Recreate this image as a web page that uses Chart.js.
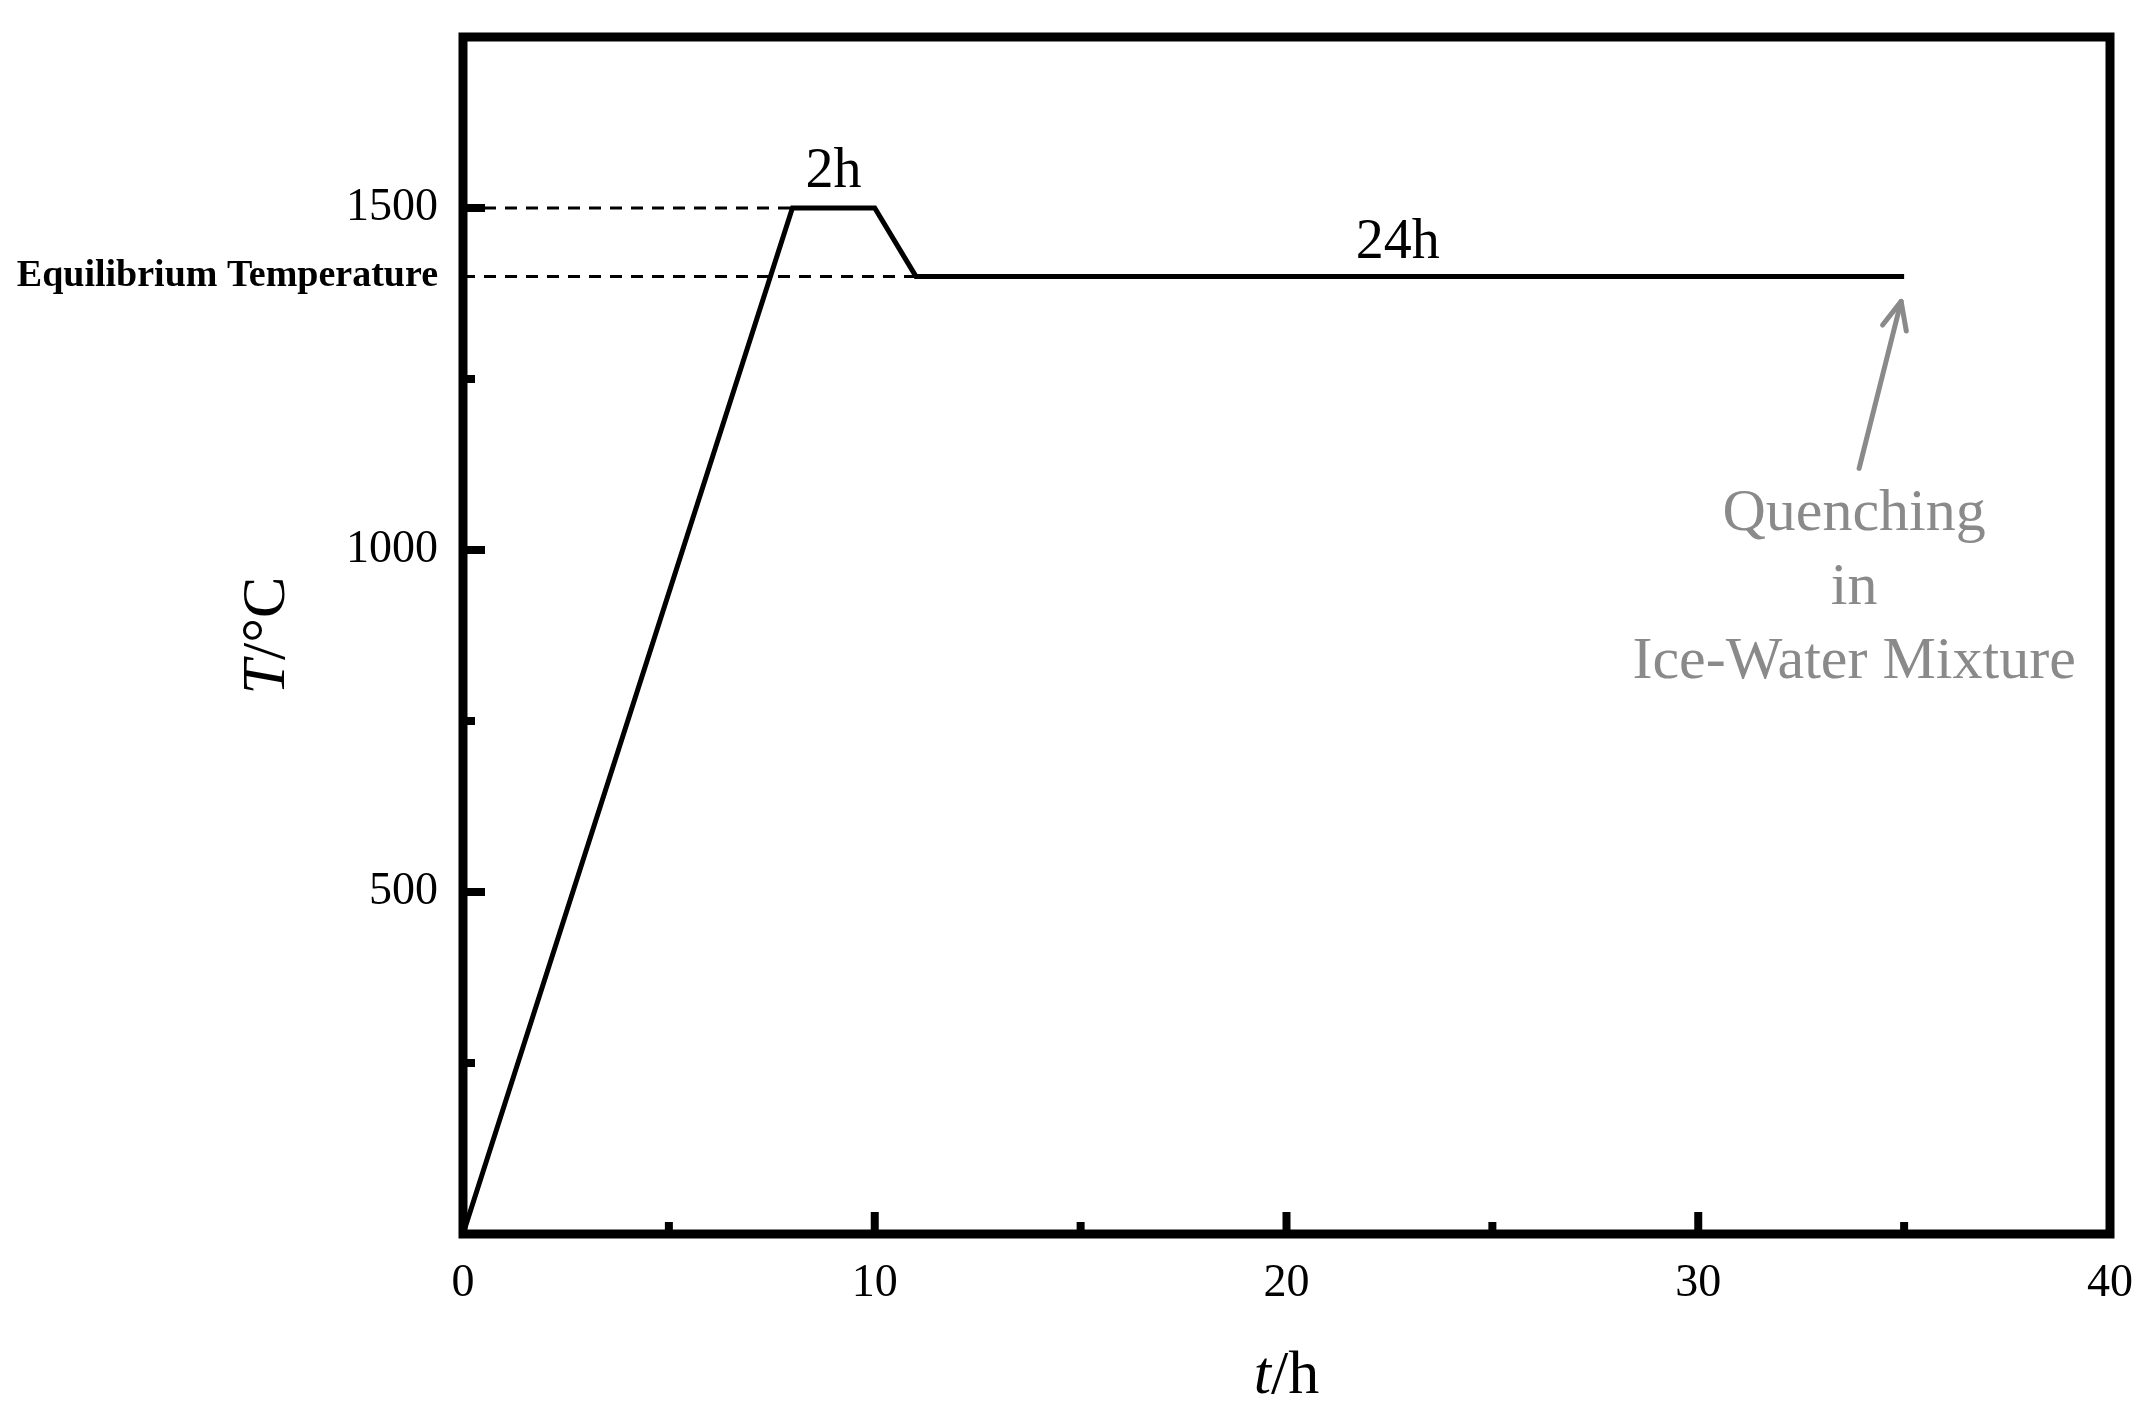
<!DOCTYPE html>
<html><head><meta charset="utf-8">
<script src="https://cdn.jsdelivr.net/npm/chart.js@4/dist/chart.umd.min.js"></script>
<style>html,body{margin:0;padding:0;background:#fff;overflow:hidden}</style>
</head><body>
<canvas id="c" width="2155" height="1415" style="width:2155px;height:1415px;display:block"></canvas>
<script>
// ---- data ----
const timeH = [0, 8, 10, 11, 35];
const tempC = [0, 1500, 1500, 1400, 1400];
const xTicks = [0, 10, 20, 30, 40];
const xMinorTicks = [5, 15, 25, 35];
const yTicks = [500, 1000, 1400, 1500];
const yMajorMarks = [500, 1000, 1500];
const yMinorMarks = [250, 750, 1250];
const equilibriumT = 1400;
const holdT = 1500;
const segmentLabels = ['2h', '24h'];
const quenchLines = ['Quenching', 'in', 'Ice-Water Mixture'];

const SERIF = '"Liberation Serif", "Times New Roman", serif';

const decor = {
  id: 'decor',
  beforeDatasetsDraw(chart) {
    const {ctx, chartArea: a, scales: {x, y}} = chart;
    ctx.save();
    ctx.strokeStyle = '#000';
    ctx.lineWidth = 3;
    ctx.setLineDash([12, 9]);
    ctx.beginPath();
    ctx.moveTo(a.left, y.getPixelForValue(holdT));
    ctx.lineTo(x.getPixelForValue(timeH[1]), y.getPixelForValue(holdT));
    ctx.stroke();
    ctx.beginPath();
    ctx.moveTo(a.left, y.getPixelForValue(equilibriumT));
    ctx.lineTo(x.getPixelForValue(timeH[3]), y.getPixelForValue(equilibriumT));
    ctx.stroke();
    ctx.restore();
  },
  afterDatasetsDraw(chart) {
    const {ctx, chartArea: a, scales: {x, y}} = chart;
    ctx.save();
    // frame
    ctx.strokeStyle = '#000';
    ctx.lineWidth = 9;
    ctx.strokeRect(a.left, a.top, a.right - a.left, a.bottom - a.top);
    // inward ticks
    ctx.lineWidth = 8;
    ctx.lineCap = 'butt';
    const tickX = (v, len) => { const p = x.getPixelForValue(v); ctx.beginPath(); ctx.moveTo(p, a.bottom); ctx.lineTo(p, a.bottom - len); ctx.stroke(); };
    const tickY = (v, len) => { const p = y.getPixelForValue(v); ctx.beginPath(); ctx.moveTo(a.left, p); ctx.lineTo(a.left + len, p); ctx.stroke(); };
    xTicks.forEach(v => tickX(v, 22));
    xMinorTicks.forEach(v => tickX(v, 12));
    yMajorMarks.forEach(v => tickY(v, 22));
    yMinorMarks.forEach(v => tickY(v, 12));

    // segment labels
    ctx.fillStyle = '#000';
    ctx.font = '56px ' + SERIF;
    ctx.textAlign = 'center';
    ctx.textBaseline = 'alphabetic';
    const mid1 = x.getPixelForValue((timeH[1] + timeH[2]) / 2);
    ctx.fillText(segmentLabels[0], mid1, y.getPixelForValue(tempC[1]) - 21);
    const mid2 = x.getPixelForValue((timeH[3] + timeH[4]) / 2 - 0.3);
    ctx.fillText(segmentLabels[1], mid2, y.getPixelForValue(tempC[3]) - 18);

    // quenching annotation
    const px = x.getPixelForValue(timeH[4]);
    const py = y.getPixelForValue(tempC[4]);
    const tip = {x: px - 3, y: py + 25};
    const tail = {x: px - 45, y: py + 192};
    ctx.strokeStyle = '#8a8a8a';
    ctx.lineWidth = 5;
    ctx.lineCap = 'round';
    ctx.lineJoin = 'round';
    ctx.beginPath(); ctx.moveTo(tail.x, tail.y); ctx.lineTo(tip.x, tip.y); ctx.stroke();
    const ang = Math.atan2(tip.y - tail.y, tip.x - tail.x);
    const hl = 30, ha = 0.42;
    ctx.beginPath();
    ctx.moveTo(tip.x - hl * Math.cos(ang - ha), tip.y - hl * Math.sin(ang - ha));
    ctx.lineTo(tip.x, tip.y);
    ctx.lineTo(tip.x - hl * Math.cos(ang + ha), tip.y - hl * Math.sin(ang + ha));
    ctx.stroke();
    ctx.fillStyle = '#8a8a8a';
    ctx.font = '60px ' + SERIF;
    const cx = px - 50;
    quenchLines.forEach((t, i) => ctx.fillText(t, cx, py + 254 + i * 74));

    // axis titles
    ctx.fillStyle = '#000';
    const mixed = (parts, size) => parts.map(p => ({t: p[0], f: (p[1] ? 'italic ' : '') + size + 'px ' + SERIF}));
    const drawMixed = (parts, cxp, cyp, rot) => {
      ctx.save();
      ctx.translate(cxp, cyp);
      ctx.rotate(rot);
      ctx.textAlign = 'left';
      ctx.textBaseline = 'alphabetic';
      let w = 0;
      parts.forEach(p => { ctx.font = p.f; w += ctx.measureText(p.t).width; });
      let xx = -w / 2;
      parts.forEach(p => { ctx.font = p.f; ctx.fillText(p.t, xx, 0); xx += ctx.measureText(p.t).width; });
      ctx.restore();
    };
    drawMixed(mixed([['t', true], ['/h', false]], 62), (a.left + a.right) / 2, 1393, 0);
    drawMixed(mixed([['T', true], ['/°C', false]], 62), 284, (a.top + a.bottom) / 2, -Math.PI / 2);
    ctx.restore();
  }
};

new Chart(document.getElementById('c'), {
  type: 'scatter',
  data: {
    datasets: [{
      data: timeH.map((t, i) => ({x: t, y: tempC[i]})),
      showLine: true,
      borderColor: '#000',
      borderWidth: 5,
      pointRadius: 0,
      pointHoverRadius: 0,
      tension: 0,
      fill: false,
      clip: false
    }]
  },
  options: {
    responsive: false,
    animation: false,
    devicePixelRatio: 1,
    layout: {padding: {top: 37, right: 45, left: 0, bottom: 0}},
    plugins: {legend: {display: false}, tooltip: {enabled: false}},
    scales: {
      x: {
        type: 'linear', min: 0, max: 40,
        afterBuildTicks: s => { s.ticks = xTicks.map(v => ({value: v})); },
        afterFit: s => { s.height = 181; s.paddingLeft = 0; s.paddingRight = 0; },
        grid: {display: false, drawTicks: false},
        border: {display: false},
        ticks: {padding: 22, color: '#000', maxRotation: 0, autoSkip: false,
          font: {family: SERIF, size: 46}}
      },
      y: {
        type: 'linear', min: 0, max: 1750,
        afterBuildTicks: s => { s.ticks = yTicks.map(v => ({value: v})); },
        afterFit: s => { s.width = 463; s.paddingTop = 0; s.paddingBottom = 0; },
        grid: {display: false, drawTicks: false},
        border: {display: false},
        ticks: {
          padding: 25, color: '#000', autoSkip: false,
          callback: v => v === equilibriumT ? 'Equilibrium Temperature' : String(v),
          font: c => (c.tick && c.tick.value === equilibriumT)
            ? {family: SERIF, size: 38, weight: 'bold'}
            : {family: SERIF, size: 46}
        }
      }
    }
  },
  plugins: [decor]
});
</script>
</body></html>
